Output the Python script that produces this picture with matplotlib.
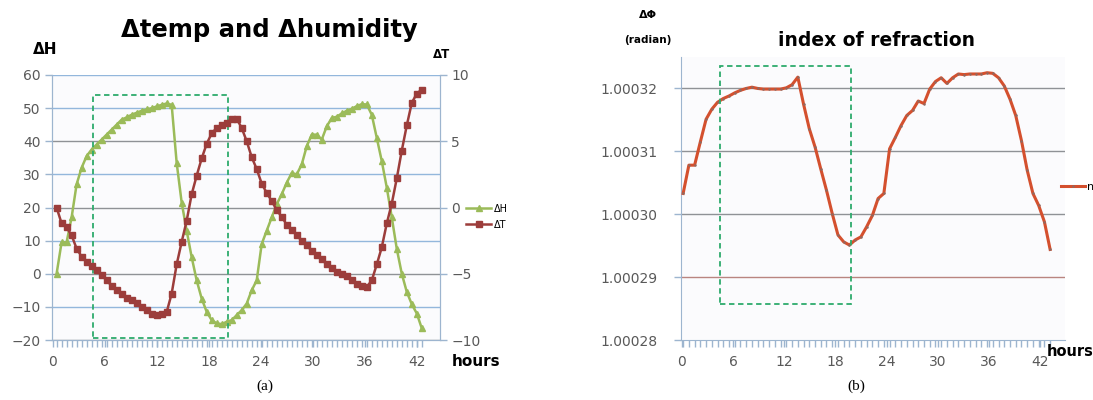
import numpy as np
import matplotlib
matplotlib.use("Agg")
import matplotlib.pyplot as plt
from matplotlib.patches import Rectangle
from matplotlib.lines import Line2D

plt.rcParams['font.family'] = ['DejaVu Sans']

# ---------------- data ----------------
# (a) sampling grid (hours) and series
hours_a = np.round(0.43 + 0.577 * np.arange(74), 3)
delta_H = [0, 9.5, 9.5, 17, 27, 32, 35.5, 37.5, 39, 40.5,
           42, 43.5, 45, 46.5, 47.2, 48, 48.6, 49.2, 49.6, 50,
           50.5, 51, 51.4, 51, 33.5, 21.5, 13, 5, -2, -7.5,
           -11.5, -14, -15, -15.2, -14.5, -14, -12.5, -11, -9, -5,
           -2, 9, 13, 17, 21, 24, 27.5, 30.4, 30, 33,
           38.5, 42, 42, 40.5, 44.5, 47, 47.4, 48.4, 49.2, 49.8,
           50.6, 51.2, 51.1, 48, 41, 34, 26, 17, 7.5, 0,
           -5.5, -9.2, -12, -16.5]
delta_T = [0, -1.2, -1.5, -2.1, -3.1, -3.7, -4.1, -4.4, -4.7, -5.1,
           -5.5, -5.9, -6.2, -6.5, -6.8, -7.0, -7.2, -7.5, -7.7, -8.0,
           -8.1, -8.0, -7.9, -6.5, -4.3, -2.6, -1.0, 1.0, 2.4, 3.7,
           4.8, 5.6, 6.0, 6.2, 6.4, 6.7, 6.7, 6.0, 5.0, 3.8,
           2.9, 1.8, 1.1, 0.5, -0.2, -0.7, -1.3, -1.7, -2.1, -2.5,
           -2.8, -3.3, -3.6, -3.9, -4.3, -4.6, -4.85, -5.05, -5.2, -5.5,
           -5.75, -5.9, -6.0, -5.5, -4.3, -3.0, -1.2, 0.3, 2.2, 4.3,
           6.2, 7.9, 8.6, 8.9]

# (b) sampling grid (hours) and refractive index
hours_b = np.round(0.15 + 0.672 * np.arange(65), 3)
n_index = [1.0003033, 1.0003078, 1.0003078, 1.0003115, 1.0003151, 1.0003167, 1.0003178, 1.0003184, 1.0003188, 1.0003193,
           1.0003197, 1.0003200, 1.0003202, 1.0003200, 1.0003199, 1.0003199, 1.0003199, 1.0003199, 1.0003201, 1.0003206,
           1.0003218, 1.0003175, 1.0003136, 1.0003107, 1.0003072, 1.0003038, 1.0003001, 1.0002967, 1.0002956, 1.0002951,
           1.0002959, 1.0002964, 1.0002980, 1.0002998, 1.0003025, 1.0003033, 1.0003104, 1.0003122, 1.0003141, 1.0003157,
           1.0003165, 1.0003180, 1.0003176, 1.0003199, 1.0003211, 1.0003217, 1.0003208, 1.0003217, 1.0003223, 1.0003222,
           1.0003223, 1.0003223, 1.0003223, 1.0003225, 1.0003224, 1.0003217, 1.0003204, 1.0003183, 1.0003157, 1.0003117,
           1.0003070, 1.0003033, 1.0003014, 1.0002988, 1.0002944]

xticks = [0, 6, 12, 18, 24, 30, 36, 42]
yticks_H = [-20, -10, 0, 10, 20, 30, 40, 50, 60]
yticks_T = [-10, -5, 0, 5, 10]
yticks_n = [1.00028, 1.00029, 1.00030, 1.00031, 1.00032]
ylabels_n = ["1.00028", "1.00029", "1.00030", "1.00031", "1.00032"]

# ---------------- style ----------------
W, H = 1093, 400
GREEN = '#9BBB59'
DRED = '#9C3D3B'
ORANGE = '#D4502E'
SPINE = '#9DB5CF'
GRID_BLUE = '#93B7DC'
GRID_GRAY = '#8F9296'
TICKC = '#595959'
BOX = '#2EAB6C'


def fx(px):
    return px / W


def fy(py):
    return 1 - py / H


fig = plt.figure(figsize=(W / 100, H / 100), dpi=100)
fig.patch.set_facecolor('white')

# ======================= (a) =======================
axL = fig.add_axes([fx(52), fy(340), fx(440) - fx(52), fy(75) - fy(340)])
axL.set_facecolor('#FBFBFD')
axL.set_xlim(-0.1, 44.65)
axL.set_ylim(-20, 60)
for v in yticks_H:
    col = GRID_GRAY if (v % 20 == 0 and v != 60) else GRID_BLUE
    axL.axhline(v, color=col, lw=1.0, zorder=1)

axL.plot(hours_a, delta_H, color=GREEN, lw=1.8, marker='^', ms=4.2,
         mfc=GREEN, mec=GREEN, zorder=3, clip_on=False)
axL.set_yticks(yticks_H)
axL.set_xticks(xticks)
axL.set_xticks(hours_a, minor=True)
axL.tick_params(axis='y', colors=SPINE, labelcolor=TICKC, labelsize=10,
                length=5, width=1, pad=3)
axL.tick_params(axis='x', which='both', colors=SPINE, labelcolor=TICKC,
                labelsize=10, length=5, width=1, pad=6, direction='out')
axL.spines['top'].set_visible(False)
for s in ['left', 'bottom', 'right']:
    axL.spines[s].set_color(SPINE)

axT = axL.twinx()
axT.set_ylim(-10, 10)
axT.plot(hours_a, delta_T, color=DRED, lw=1.8, marker='s', ms=4.2,
         mfc=DRED, mec=DRED, zorder=3, clip_on=False)
axT.set_yticks(yticks_T)
axT.tick_params(axis='y', colors=SPINE, labelcolor=TICKC, labelsize=10,
                length=5, width=1, pad=3)
axT.spines['top'].set_visible(False)
for s in ['left', 'bottom', 'right']:
    axT.spines[s].set_color(SPINE)

axL.add_patch(Rectangle((4.6, -19.4), 15.6, 73.4, fill=False, ec=BOX,
                        lw=1.3, ls=(0, (3, 2)), zorder=4))

fig.text(fx(269), fy(30), 'Δtemp and Δhumidity', fontsize=17.5,
         fontweight='bold', ha='center', va='center', color='black')
fig.text(fx(45), fy(50), 'ΔH', fontsize=11, fontweight='bold',
         ha='center', va='center')
fig.text(fx(442), fy(55), 'ΔT', fontsize=8.5, fontweight='bold',
         ha='center', va='center')
fig.text(fx(476), fy(362), 'hours', fontsize=11, fontweight='bold',
         ha='center', va='center')
fig.text(fx(265), fy(386), '(a)', fontsize=11, family='Liberation Serif',
         ha='center', va='center')

fig.legend(
    [Line2D([], [], color=GREEN, lw=1.8, marker='^', ms=4),
     Line2D([], [], color=DRED, lw=1.8, marker='s', ms=4)],
    ['ΔH', 'ΔT'], loc='upper left', bbox_to_anchor=(fx(461), fy(199)),
    frameon=False, fontsize=7, handlelength=2.6, labelspacing=0.6,
    handletextpad=0.3, borderpad=0)

# ======================= (b) =======================
axB = fig.add_axes([fx(681), fy(340), fx(1065) - fx(681), fy(57) - fy(340)])
axB.set_facecolor('#FBFBFD')
axB.set_xlim(-0.1, 44.9)
axB.set_ylim(1.00028, 1.000325)
for v in yticks_n[1:]:
    col = '#B98580' if abs(v - 1.00029) < 1e-9 else GRID_GRAY
    axB.axhline(v, color=col, lw=1.0, zorder=1)
axB.plot(hours_b, n_index, color=ORANGE, lw=2.2, marker='o', ms=1.8,
         mfc='#8E6A62', mec='none', zorder=3, label='n')
axB.set_yticks(yticks_n)
axB.set_yticklabels(ylabels_n)
axB.set_xticks(xticks)
axB.set_xticks(hours_b, minor=True)
axB.tick_params(axis='y', colors=SPINE, labelcolor=TICKC, labelsize=10,
                length=5, width=1, pad=12)
axB.tick_params(axis='x', which='both', colors=SPINE, labelcolor=TICKC,
                labelsize=10, length=5, width=1, pad=6)
for s in ['top', 'right']:
    axB.spines[s].set_visible(False)
for s in ['left', 'bottom']:
    axB.spines[s].set_color(SPINE)

axB.add_patch(Rectangle((4.46, 1.0002858), 15.34, 1.0003236 - 1.0002858,
                        fill=False, ec=BOX, lw=1.3, ls=(0, (3, 2)), zorder=4))

fig.text(fx(877), fy(40), 'index of refraction', fontsize=13.5,
         fontweight='bold', ha='center', va='center')
fig.text(fx(648), fy(15), 'ΔΦ', fontsize=8, fontweight='bold',
         ha='center', va='center')
fig.text(fx(648), fy(40), '(radian)', fontsize=7.5, fontweight='bold',
         ha='center', va='center')
fig.text(fx(1070), fy(351), 'hours', fontsize=10.5, fontweight='bold',
         ha='center', va='center')
fig.text(fx(856), fy(386), '(b)', fontsize=11, family='Liberation Serif',
         ha='center', va='center')

fig.legend([Line2D([], [], color=ORANGE, lw=2.2, marker='o', ms=1.8,
                   mfc='#8E6A62', mec='none')], ['n'],
           loc='center left', bbox_to_anchor=(fx(1055), fy(187)),
           frameon=False, fontsize=8, handlelength=2.2, handletextpad=0.2,
           borderpad=0)

fig.savefig('out.png', dpi=100)
